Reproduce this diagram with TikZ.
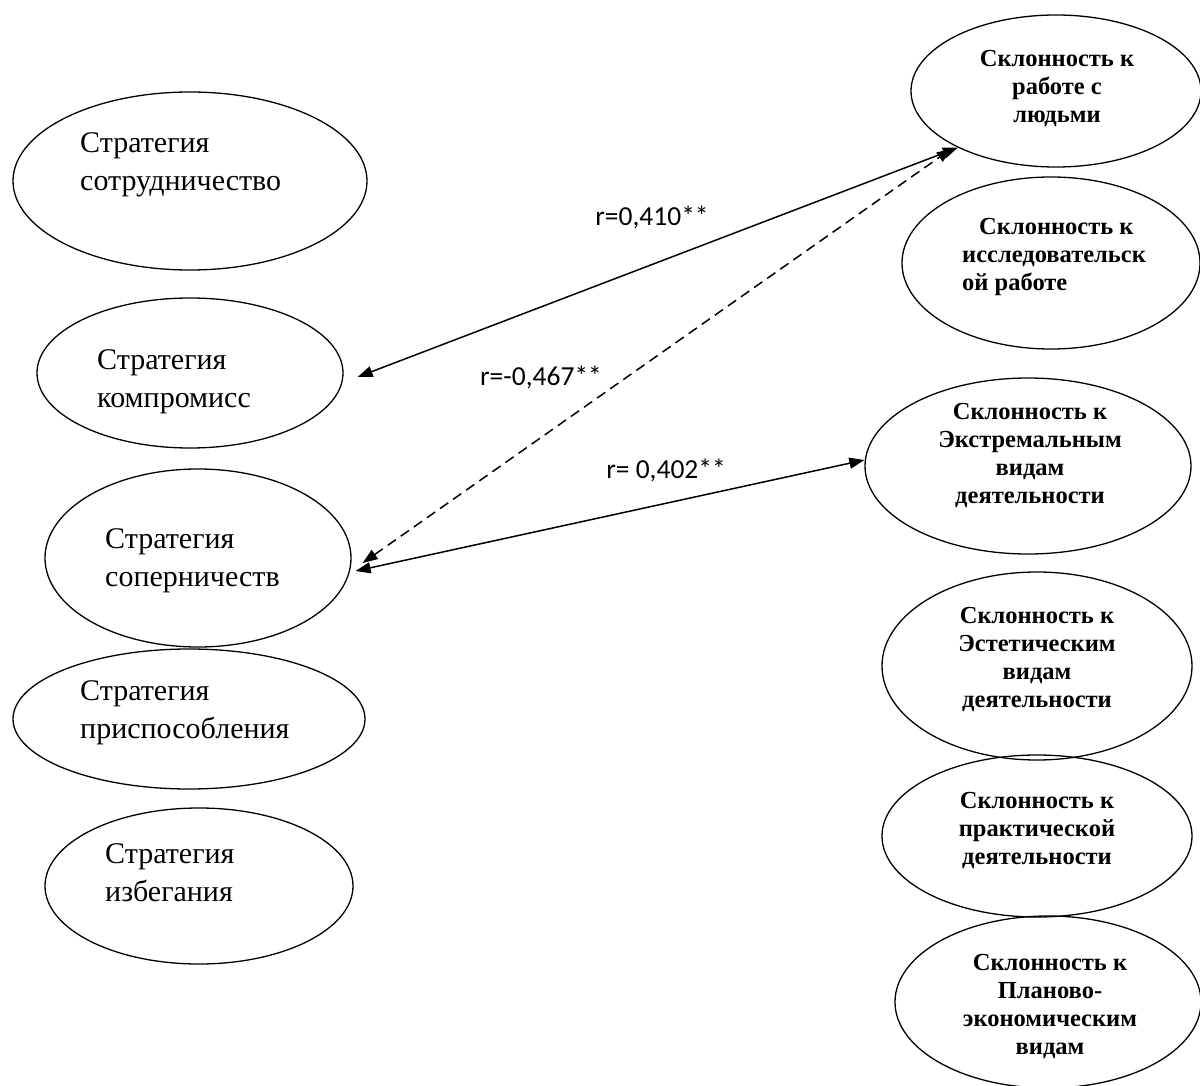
\documentclass[tikz,border=0pt]{standalone}
\usepackage{fontspec}
\setmainfont{Liberation Serif}
\newfontfamily\lblfont{Carlito}
\usetikzlibrary{shapes.geometric,arrows.meta}
\tikzset{
  ell/.style={draw, ellipse, line width=1.3pt, inner sep=0pt},
  lefttxt/.style={align=left, font=\fontsize{30}{38}\selectfont, anchor=west, inner sep=0pt},
  righttxt/.style={align=center, font=\fontsize{24.5}{28}\selectfont\bfseries, inner sep=0pt},
  rlbl/.style={font=\lblfont\fontsize{27.5}{30}\selectfont, inner sep=0pt},
  link/.style={{Triangle[length=15pt,width=11pt]}-{Triangle[length=15pt,width=11pt]}, line width=1.5pt},
}
\begin{document}
\begin{tikzpicture}[x=1pt,y=-1pt]
\useasboundingbox (0,0) rectangle (1200,1086);
% left ellipses
\node[ell, minimum width=354pt, minimum height=178pt] (L1) at (190,181) {};
\node[ell, minimum width=306pt, minimum height=150pt] (L2) at (190,373) {};
\node[ell, minimum width=306pt, minimum height=178pt] (L3) at (198,558) {};
\node[ell, minimum width=352pt, minimum height=140pt] (L4) at (189,719) {};
\node[ell, minimum width=308pt, minimum height=156pt] (L5) at (199,886) {};
\node[lefttxt] (t1) at (80,165) {Стратегия\\сотрудничество};
\node[lefttxt] (t2) at (97,382) {Стратегия\\компромисс};
\node[lefttxt] (t3) at (105,561) {Стратегия\\соперничеств};
\node[lefttxt] (t4) at (80,713) {Стратегия\\приспособления};
\node[lefttxt] (t5) at (105,873) {Стратегия\\избегания};
% right ellipses
\node[ell, minimum width=290pt, minimum height=152pt] (R1) at (1056,91) {};
\node[ell, minimum width=298pt, minimum height=172pt] (R2) at (1051,263) {};
\node[ell, minimum width=326pt, minimum height=176pt] (R3) at (1028,466) {};
\node[ell, minimum width=310pt, minimum height=188pt] (R4) at (1037,666) {};
\node[ell, minimum width=310pt, minimum height=162pt] (R5) at (1037,836) {};
\node[ell, minimum width=306pt, minimum height=172pt] (R6) at (1048,1002) {};
\node[righttxt] (s1) at (1057,89) {Склонность к\\работе с\\людьми};
\node[righttxt, align=left, anchor=west] (s2) at (962,257) {\hspace*{17pt}Склонность к\\исследовательск\\ой работе};
\node[righttxt] (s3) at (1030,456) {Склонность к\\Экстремальным\\видам\\деятельности};
\node[righttxt] (s4) at (1037,660) {Склонность к\\Эстетическим\\видам\\деятельности};
\node[righttxt] (s5) at (1037,831) {Склонность к\\практической\\деятельности};
\node[righttxt] (s6) at (1050,1007) {Склонность к\\Планово-\\экономическим\\видам};
% connectors
\draw[link] ([shift={(14,4)}]L2.east) -- (R1.210.7);
\draw[link, dashed, dash pattern=on 10pt off 6pt] ([shift={(11,5)}]L3.east) -- ([shift={(-4,2)}]R1.209.6);
\draw[link] ([shift={(4,13)}]L3.east) -- ([shift={(0,-6)}]R3.west);
% labels
\node[rlbl] (r1) at (652,217) {r=0,410**};
\node[rlbl] (r2) at (541,377) {r=-0,467**};
\node[rlbl] (r3) at (666,470) {r= 0,402**};
\end{tikzpicture}
\end{document}
